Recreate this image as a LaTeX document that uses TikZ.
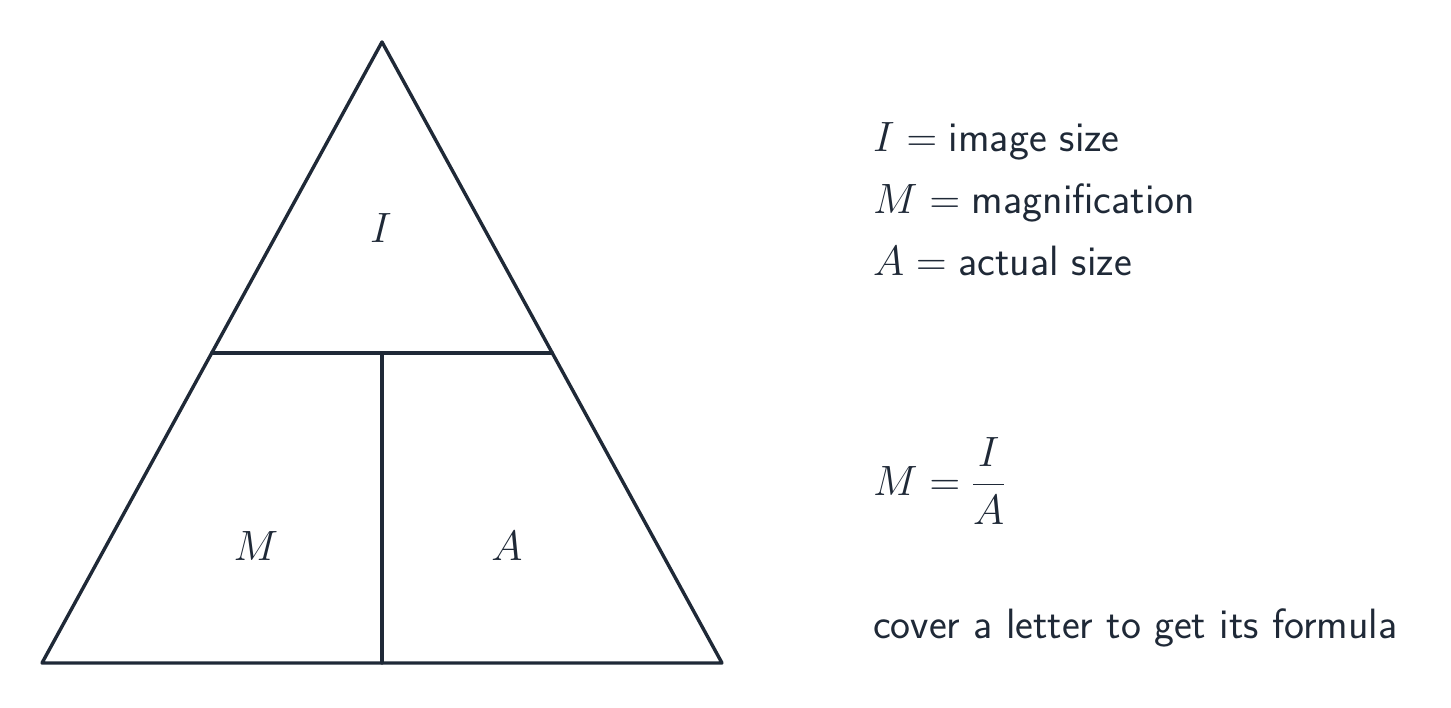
\RequirePackage{fix-cm}
\documentclass[tikz,border=0pt]{standalone}
\usepackage{amsmath}
\usepackage{fontspec}
\definecolor{ink}{HTML}{1F2937}
\begin{document}
\begin{tikzpicture}[x=1pt,y=-1pt,
  edge/.style={draw=ink,line width=3.4pt,line join=round,line cap=round},
  lbl/.style={text=ink,inner sep=0pt,font=\fontsize{42.4}{50}\selectfont\sffamily},
]
\useasboundingbox (0,0) rectangle (1451,708);
\coordinate (apex) at (382,42);
\coordinate (bl) at (42,663);
\coordinate (br) at (722,663);
\coordinate (ml) at (211.7,353);
\coordinate (mr) at (552.3,353);
\coordinate (mt) at (382,353);
\coordinate (mb) at (382,663);
\draw[edge] (apex) -- (br) -- (bl) -- cycle;
\draw[edge] (ml) -- (mr);
\draw[edge] (mt) -- (mb);
\node[lbl,anchor=base] (li) at (381,243) {$I$};
\node[lbl,anchor=base] (lm) at (256,560) {$M$};
\node[lbl,anchor=base] (la) at (507,560) {$A$};
\node[lbl,anchor=base west] (t1) at (873,152) {$I = \text{image size}$};
\node[lbl,anchor=base west] (t2) at (873,214) {$M = \text{magnification}$};
\node[lbl,anchor=base west] (t3) at (873,276) {$A = \text{actual size}$};
\node[lbl,anchor=base west] (t4) at (873,495) {$\displaystyle M=\frac{I}{A}$};
\node[lbl,anchor=base west] (t5) at (873,638) {cover a letter to get its formula};
\end{tikzpicture}
\end{document}
